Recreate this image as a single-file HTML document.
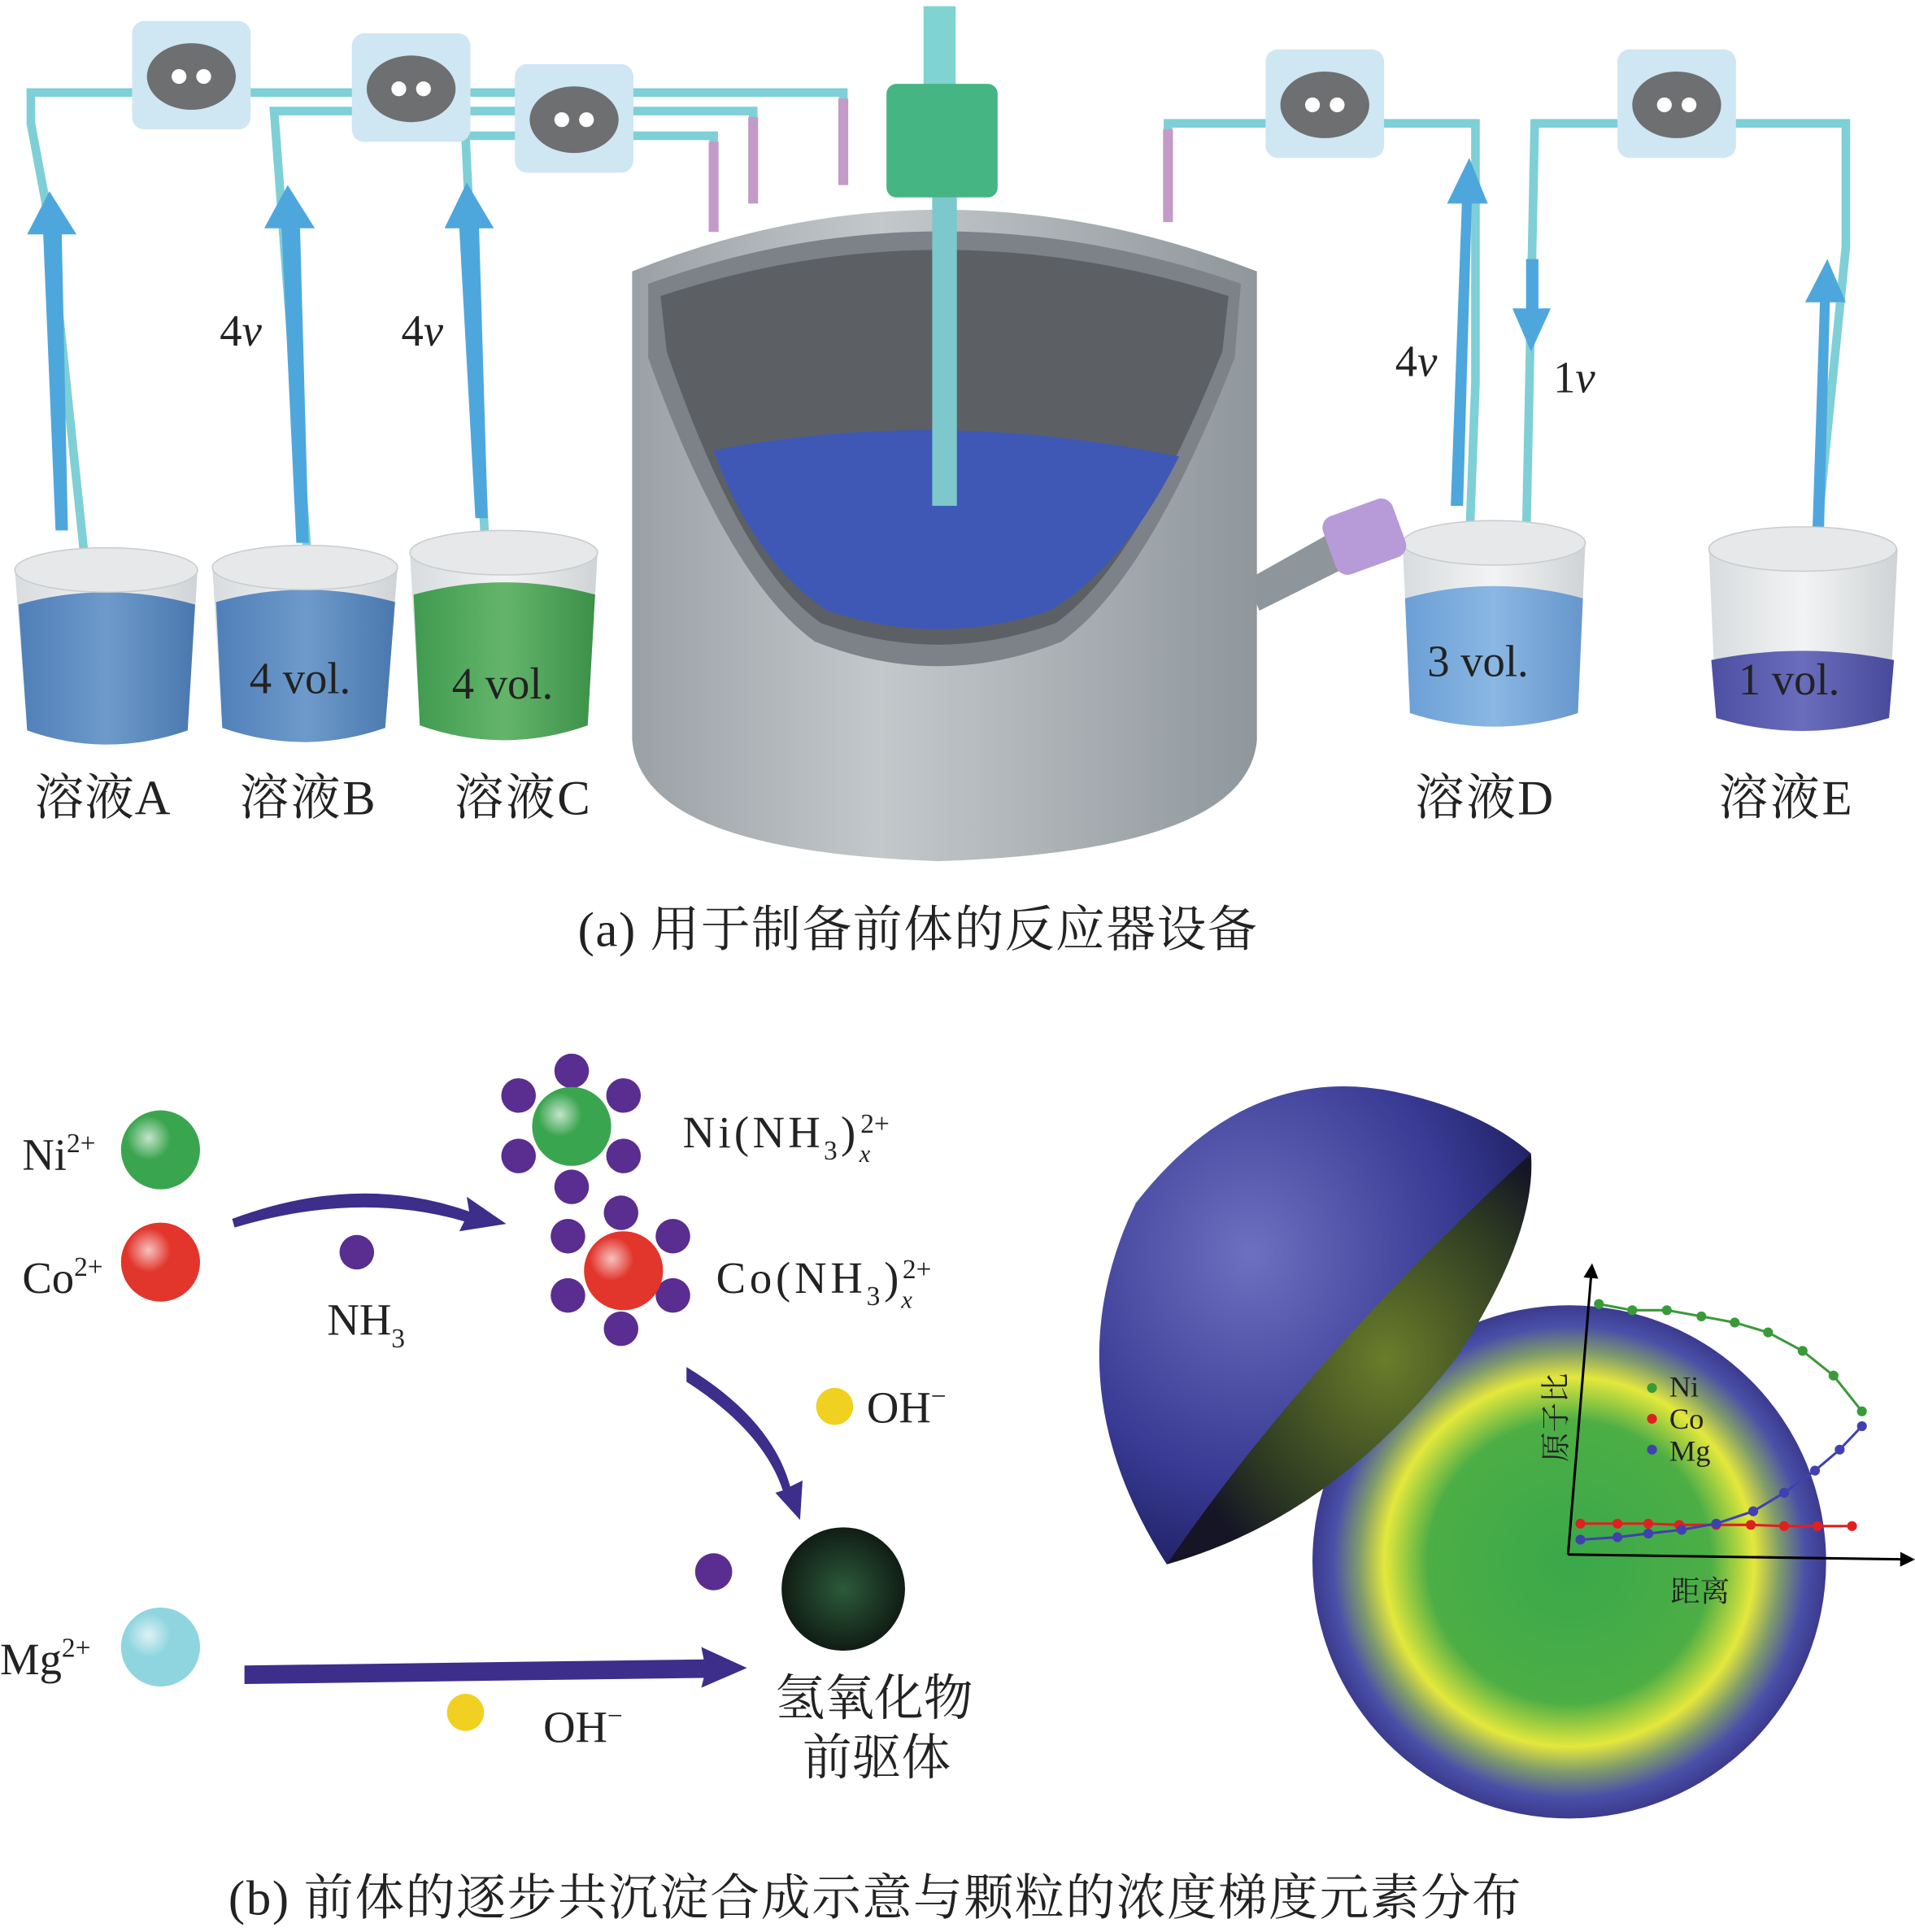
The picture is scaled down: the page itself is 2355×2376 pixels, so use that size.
<!DOCTYPE html>
<html><head><meta charset="utf-8"><style>
html,body{margin:0;padding:0;background:#fff}
svg{display:block}
text{font-family:"Liberation Serif","Noto Serif CJK SC",serif;fill:#222}
</style></head><body>
<svg width="2355" height="2376" viewBox="0 0 1551 1566" preserveAspectRatio="none" xmlns="http://www.w3.org/2000/svg">
<defs>
<linearGradient id="beaker" x1="0" x2="1"><stop offset="0" stop-color="#d8dcde"/><stop offset="0.5" stop-color="#f2f3f4"/><stop offset="1" stop-color="#cfd3d5"/></linearGradient>
<linearGradient id="liqA" x1="0" x2="1"><stop offset="0" stop-color="#4f7fb8"/><stop offset="0.5" stop-color="#6e9acb"/><stop offset="1" stop-color="#4a78ae"/></linearGradient>
<linearGradient id="liqC" x1="0" x2="1"><stop offset="0" stop-color="#3f9a4f"/><stop offset="0.5" stop-color="#64b56b"/><stop offset="1" stop-color="#3c9048"/></linearGradient>
<linearGradient id="liqD" x1="0" x2="1"><stop offset="0" stop-color="#6b9fd6"/><stop offset="0.5" stop-color="#8ab7e3"/><stop offset="1" stop-color="#6696cc"/></linearGradient>
<linearGradient id="liqE" x1="0" x2="1"><stop offset="0" stop-color="#4d4fa3"/><stop offset="0.5" stop-color="#6a6cbc"/><stop offset="1" stop-color="#474a9a"/></linearGradient>
<linearGradient id="body" x1="0" x2="1"><stop offset="0" stop-color="#9aa1a6"/><stop offset="0.4" stop-color="#c3c8cb"/><stop offset="1" stop-color="#8f979c"/></linearGradient>
<radialGradient id="sph" cx="0.35" cy="0.35" r="0.7"><stop offset="0" stop-color="#fff" stop-opacity="0.7"/><stop offset="0.4" stop-color="#fff" stop-opacity="0"/></radialGradient>
<radialGradient id="cut" cx="0.5" cy="0.5" r="0.5"><stop offset="0" stop-color="#3aa84a"/><stop offset="0.55" stop-color="#4cae45"/><stop offset="0.72" stop-color="#e4e83c"/><stop offset="0.82" stop-color="#7f9a6c"/><stop offset="0.92" stop-color="#4a4fa8"/><stop offset="1" stop-color="#3b3b8e"/></radialGradient>
<radialGradient id="hemi" cx="0.35" cy="0.35" r="0.8"><stop offset="0" stop-color="#6d6fc0"/><stop offset="0.6" stop-color="#383a93"/><stop offset="1" stop-color="#16164f"/></radialGradient>
<radialGradient id="hemiIn" cx="0.6" cy="0.5" r="0.6"><stop offset="0" stop-color="#6a7d2a"/><stop offset="0.7" stop-color="#2d3a22"/><stop offset="1" stop-color="#151525"/></radialGradient>
<radialGradient id="ppt" cx="0.5" cy="0.5" r="0.5"><stop offset="0" stop-color="#2c5a3a"/><stop offset="1" stop-color="#101d14"/></radialGradient>
<marker id="ah" markerWidth="6" markerHeight="6" refX="3" refY="3" orient="auto"><path d="M0,0 L6,3 L0,6 Z" fill="#000"/></marker>
</defs>

<g stroke="#7fcfd6" stroke-width="7" fill="none">
<polyline points="73,495 40,180 25,100 25,75 683,75 683,110"/>
<polyline points="252,490 222,90 610,90 610,140"/>
<polyline points="395,485 377,110 578,110 578,170"/>
<polyline points="946,170 946,100 1195,100 1195,310 1188,495"/>
<polyline points="1235,490 1243,100 1495,100 1495,200 1462,530"/>
</g>
<g stroke="#c49ac8" stroke-width="8">
<line x1="683" y1="80" x2="683" y2="150"/><line x1="610" y1="95" x2="610" y2="165"/><line x1="578" y1="115" x2="578" y2="188"/><line x1="946" y1="105" x2="946" y2="180"/>
</g>

<g>
<g transform="translate(155,62)"><rect x="-48" y="-45" width="96" height="88" rx="10" fill="#cfe6f3"/><ellipse rx="36" ry="27" fill="#6e6f71"/><circle cx="-10" r="6" fill="#fff"/><circle cx="10" r="6" fill="#fff"/></g>
<g transform="translate(333,72)"><rect x="-48" y="-45" width="96" height="88" rx="10" fill="#cfe6f3"/><ellipse rx="36" ry="27" fill="#6e6f71"/><circle cx="-10" r="6" fill="#fff"/><circle cx="10" r="6" fill="#fff"/></g>
<g transform="translate(465,97)"><rect x="-48" y="-45" width="96" height="88" rx="10" fill="#cfe6f3"/><ellipse rx="36" ry="27" fill="#6e6f71"/><circle cx="-10" r="6" fill="#fff"/><circle cx="10" r="6" fill="#fff"/></g>
<g transform="translate(1073,85)"><rect x="-48" y="-45" width="96" height="88" rx="10" fill="#cfe6f3"/><ellipse rx="36" ry="27" fill="#6e6f71"/><circle cx="-10" r="6" fill="#fff"/><circle cx="10" r="6" fill="#fff"/></g>
<g transform="translate(1358,85)"><rect x="-48" y="-45" width="96" height="88" rx="10" fill="#cfe6f3"/><ellipse rx="36" ry="27" fill="#6e6f71"/><circle cx="-10" r="6" fill="#fff"/><circle cx="10" r="6" fill="#fff"/></g>
</g>

<g fill="#4ea7dc">
<polygon points="45,430 55,430 50,190 62,190 40,155 22,190 35,190"/>
<polygon points="240,440 250,440 243,185 255,185 233,150 214,185 228,185"/>
<polygon points="385,420 395,420 388,185 400,185 378,148 360,185 372,185"/>
<polygon points="1175,410 1185,410 1192,165 1205,165 1190,128 1172,165 1184,165"/>
<polygon points="1236,210 1246,210 1246,250 1256,250 1240,285 1225,250 1236,250"/>
<polygon points="1465,520 1475,520 1482,245 1495,245 1480,210 1462,245 1474,245"/>
</g>

<g>
<path d="M12,462 L22,592 Q86,615 152,592 L160,462 Z" fill="url(#beaker)"/>
<path d="M15,490 L22,592 Q86,615 152,592 L158,490 Q86,470 15,490Z" fill="url(#liqA)"/>
<ellipse cx="86" cy="462" rx="74" ry="18" fill="#e6e8ea" stroke="#c8ccce"/>
<path d="M172,460 L180,590 Q246,613 312,590 L322,460 Z" fill="url(#beaker)"/>
<path d="M175,488 L180,590 Q246,613 312,590 L320,488 Q246,468 175,488Z" fill="url(#liqA)"/>
<ellipse cx="247" cy="460" rx="75" ry="18" fill="#e6e8ea" stroke="#c8ccce"/>
<path d="M332,448 L340,588 Q408,612 476,588 L484,448 Z" fill="url(#beaker)"/>
<path d="M335,482 L340,588 Q408,612 476,588 L482,482 Q408,462 335,482Z" fill="url(#liqC)"/>
<ellipse cx="408" cy="448" rx="76" ry="18" fill="#e6e8ea" stroke="#c8ccce"/>
<path d="M1136,440 L1142,578 Q1210,600 1278,578 L1284,440 Z" fill="url(#beaker)"/>
<path d="M1138,485 L1142,578 Q1210,600 1278,578 L1282,485 Q1210,465 1138,485Z" fill="url(#liqD)"/>
<ellipse cx="1210" cy="440" rx="74" ry="18" fill="#e6e8ea" stroke="#c8ccce"/>
<path d="M1384,445 L1390,582 Q1460,603 1530,582 L1537,445 Z" fill="url(#beaker)"/>
<path d="M1386,535 L1390,582 Q1460,603 1530,582 L1534,535 Q1460,520 1386,535Z" fill="url(#liqE)"/>
<ellipse cx="1460" cy="445" rx="76" ry="18" fill="#e6e8ea" stroke="#c8ccce"/>
</g>

<polygon points="1010,470 1090,425 1100,455 1020,495" fill="#8e969b"/>
<rect x="1075" y="410" width="60" height="50" rx="10" fill="#b79ad8" transform="rotate(-20 1105 435)"/>
<path d="M512,220 Q760,120 1018,220 L1018,600 Q1010,690 760,698 Q520,690 512,600 Z" fill="url(#body)"/>
<path d="M525,230 Q760,145 1005,230 L1000,290 Q930,470 860,520 Q760,560 660,520 Q590,470 525,290 Z" fill="#7c8287"/>
<path d="M535,240 Q760,165 995,240 L990,285 Q920,460 855,505 Q760,540 665,505 Q600,460 540,285 Z" fill="#5c6064"/>
<path d="M578,365 Q760,330 955,370 Q910,460 850,495 Q760,525 670,495 Q610,455 578,365Z" fill="#3f58b6"/>
<rect x="755" y="150" width="20" height="260" fill="#7cc8cc"/>
<rect x="748" y="5" width="26" height="70" fill="#7fd3d0"/>
<rect x="718" y="68" width="90" height="92" rx="8" fill="#45b583"/>

<g font-size="40">
<text x="28" y="660" textLength="110">溶液A</text>
<text x="194" y="660" textLength="110">溶液B</text>
<text x="368" y="660" textLength="110">溶液C</text>
<text x="1146" y="660" textLength="112">溶液D</text>
<text x="1392" y="660" textLength="108">溶液E</text>
</g>
<g font-size="36">
<text x="202" y="562">4 vol.</text>
<text x="366" y="566">4 vol.</text>
<text x="1156" y="548">3 vol.</text>
<text x="1408" y="563">1 vol.</text>
<text x="178" y="280">4<tspan font-style="italic">v</tspan></text>
<text x="325" y="280">4<tspan font-style="italic">v</tspan></text>
<text x="1130" y="305">4<tspan font-style="italic">v</tspan></text>
<text x="1258" y="318">1<tspan font-style="italic">v</tspan></text>
</g>
<text x="468" y="767" font-size="40" textLength="550">(a) 用于制备前体的反应器设备</text>

<g font-size="36">
<text x="18" y="948">Ni<tspan font-size="22" dy="-14">2+</tspan></text>
<text x="18" y="1048">Co<tspan font-size="22" dy="-14">2+</tspan></text>
<text x="0" y="1357">Mg<tspan font-size="22" dy="-14">2+</tspan></text>
<text x="265" y="1082">NH<tspan font-size="22" dy="10">3</tspan></text>
<text x="553" y="930" textLength="140">Ni(NH<tspan font-size="22" dy="10">3</tspan><tspan dy="-10">)</tspan></text>
<text x="580" y="1048" textLength="148">Co(NH<tspan font-size="22" dy="10">3</tspan><tspan dy="-10">)</tspan></text>
<text x="702" y="1153">OH<tspan font-size="22" dy="-14">−</tspan></text>
<text x="440" y="1412">OH<tspan font-size="22" dy="-14">−</tspan></text>
<text x="628" y="1390" font-size="40">氢氧化物</text>
<text x="650" y="1438" font-size="40">前驱体</text>
</g>
<text x="697" y="918" font-size="22">2+</text><text x="696" y="942" font-size="20" font-style="italic">x</text>
<text x="731" y="1036" font-size="22">2+</text><text x="730" y="1060" font-size="20" font-style="italic">x</text>

<g>
<circle cx="130" cy="932" r="32" fill="#3aa54f"/><circle cx="130" cy="932" r="32" fill="url(#sph)"/>
<circle cx="130" cy="1023" r="32" fill="#e2352b"/><circle cx="130" cy="1023" r="32" fill="url(#sph)"/>
<circle cx="130" cy="1335" r="32" fill="#8fd5df"/><circle cx="130" cy="1335" r="32" fill="url(#sph)"/>
<circle cx="289" cy="1015" r="14" fill="#5a2d90"/>
<circle cx="578" cy="1274" r="15" fill="#5a2d90"/>
<circle cx="676" cy="1140" r="15" fill="#f0d020"/>
<circle cx="377" cy="1388" r="15" fill="#f0d020"/>
</g>
<g fill="#5a2d90">
<circle cx="463" cy="868" r="14"/><circle cx="420" cy="888" r="14"/><circle cx="505" cy="888" r="14"/><circle cx="420" cy="937" r="14"/><circle cx="505" cy="937" r="14"/><circle cx="463" cy="962" r="14"/>
<circle cx="503" cy="983" r="14"/><circle cx="460" cy="1002" r="14"/><circle cx="545" cy="1002" r="14"/><circle cx="460" cy="1050" r="14"/><circle cx="545" cy="1050" r="14"/><circle cx="503" cy="1077" r="14"/>
</g>
<circle cx="463" cy="913" r="32" fill="#3aa54f"/><circle cx="463" cy="913" r="32" fill="url(#sph)"/>
<circle cx="505" cy="1030" r="32" fill="#e2352b"/><circle cx="505" cy="1030" r="32" fill="url(#sph)"/>
<circle cx="683" cy="1288" r="50" fill="url(#ppt)"/>

<g fill="#3c2e8a">
<path d="M188,988 Q290,950 380,982 L378,970 L410,992 L372,998 L376,990 Q290,965 190,995Z"/>
<path d="M556,1108 Q625,1150 640,1205 L650,1200 L648,1232 L628,1210 L634,1208 Q618,1160 556,1120Z"/>
<path d="M198,1350 L570,1345 L568,1335 L605,1352 L568,1368 L570,1360 L198,1365Z"/>
</g>

<circle cx="1271" cy="1266" r="208" fill="url(#cut)"/>
<path d="M945,1268 Q850,1120 920,975 Q1010,860 1130,885 Q1200,900 1240,935 Z" fill="url(#hemi)"/>
<path d="M945,1268 Q1060,1100 1240,935 Q1245,1000 1180,1100 Q1080,1230 945,1268Z" fill="url(#hemiIn)"/>

<g stroke="#000" stroke-width="2" fill="none">
<line x1="1270" y1="1260" x2="1289" y2="1030" marker-end="url(#ah)"/>
<line x1="1270" y1="1260" x2="1545" y2="1264" marker-end="url(#ah)"/>
</g>
<polyline points="1295,1057 1322,1062 1350,1062 1378,1067 1405,1072 1432,1080 1460,1095 1485,1115 1508,1144" fill="none" stroke="#3a9a3a" stroke-width="2"/>
<g fill="#3a9a3a"><circle cx="1295" cy="1057" r="4"/><circle cx="1322" cy="1062" r="4"/><circle cx="1350" cy="1062" r="4"/><circle cx="1378" cy="1067" r="4"/><circle cx="1405" cy="1072" r="4"/><circle cx="1432" cy="1080" r="4"/><circle cx="1460" cy="1095" r="4"/><circle cx="1485" cy="1115" r="4"/><circle cx="1508" cy="1144" r="4"/></g>
<polyline points="1280,1235 1310,1235 1335,1235 1360,1236 1390,1236 1418,1236 1445,1237 1472,1237 1500,1237" fill="none" stroke="#e02020" stroke-width="2"/>
<g fill="#e02020"><circle cx="1280" cy="1235" r="4"/><circle cx="1310" cy="1235" r="4"/><circle cx="1335" cy="1235" r="4"/><circle cx="1360" cy="1236" r="4"/><circle cx="1390" cy="1236" r="4"/><circle cx="1418" cy="1236" r="4"/><circle cx="1445" cy="1237" r="4"/><circle cx="1472" cy="1237" r="4"/><circle cx="1500" cy="1237" r="4"/></g>
<polyline points="1280,1248 1310,1246 1335,1243 1362,1240 1390,1235 1420,1225 1445,1210 1470,1192 1490,1175 1508,1156" fill="none" stroke="#4040b0" stroke-width="2"/>
<g fill="#4040b0"><circle cx="1280" cy="1248" r="4"/><circle cx="1310" cy="1246" r="4"/><circle cx="1335" cy="1243" r="4"/><circle cx="1362" cy="1240" r="4"/><circle cx="1390" cy="1235" r="4"/><circle cx="1420" cy="1225" r="4"/><circle cx="1445" cy="1210" r="4"/><circle cx="1470" cy="1192" r="4"/><circle cx="1490" cy="1175" r="4"/><circle cx="1508" cy="1156" r="4"/></g>
<circle cx="1338" cy="1125" r="4" fill="#3a9a3a"/><circle cx="1338" cy="1150" r="4" fill="#e02020"/><circle cx="1338" cy="1175" r="4" fill="#4040b0"/>
<g font-size="24"><text x="1352" y="1132">Ni</text><text x="1352" y="1158">Co</text><text x="1352" y="1184">Mg</text><text x="1353" y="1298">距离</text></g>
<text font-size="24" transform="translate(1268,1185) rotate(-90)">原子比</text>

<text x="185" y="1552" font-size="40" textLength="1047">(b) 前体的逐步共沉淀合成示意与颗粒的浓度梯度元素分布</text>
</svg>
</body></html>
